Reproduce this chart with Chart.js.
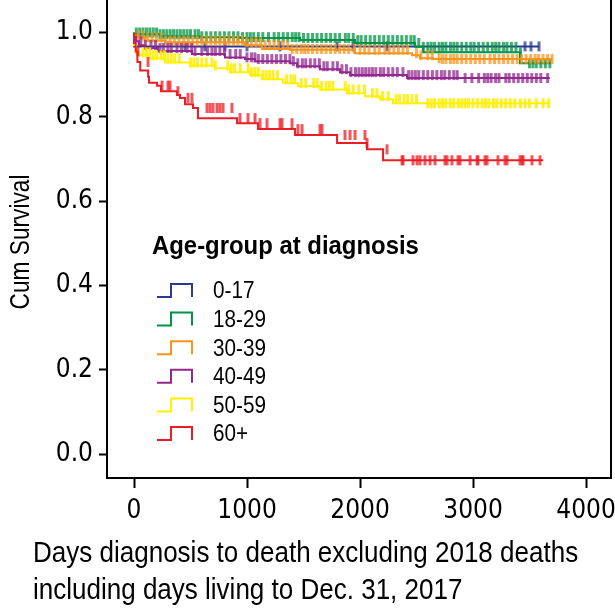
<!DOCTYPE html>
<html>
<head>
<meta charset="utf-8">
<script src="https://cdn.jsdelivr.net/npm/chart.js@4.4.1/dist/chart.umd.min.js"></script>
<style>
    html, body { margin: 0; padding: 0; background: #fff; }
    #wrap { width: 615px; height: 608px; }
</style>
</head>
<body>
<div id="wrap"><canvas id="kmChart"></canvas></div>
<script>
// ─── Data ────────────────────────────────────────────────────────────────────

const groups = ['0-17', '18-29', '30-39', '40-49', '50-59', '60+'];

const xTicks = [0, 1000, 2000, 3000, 4000];
const yTicks = [0, 0.2, 0.4, 0.6, 0.8, 1.0];

// Kaplan-Meier steps: [day, cum survival after the step]
const steps017 = [[0, 1], [30, 0.967], [3584, 0.967]];
const steps1829 = [[0, 1], [230, 0.996], [584, 0.991], [938, 0.989], [1469, 0.987], [1956, 0.982],
    [2487, 0.975], [2558, 0.966], [3416, 0.953], [3487, 0.927], [3690, 0.927]];
const steps3039 = [[0, 1], [35, 0.993], [97, 0.988], [274, 0.981], [982, 0.977], [1133, 0.970],
    [1381, 0.961], [1956, 0.959], [2460, 0.951], [2531, 0.946], [2646, 0.939], [2708, 0.937], [3700, 0.937]];
const steps4049 = [[0, 1], [18, 0.990], [44, 0.979], [97, 0.970], [212, 0.963], [513, 0.956],
    [805, 0.949], [982, 0.941], [1071, 0.937], [1381, 0.932], [1443, 0.927], [1646, 0.920],
    [1823, 0.913], [1912, 0.906], [2416, 0.899], [2885, 0.892], [3680, 0.892]];
const steps5059 = [[0, 1], [18, 0.970], [44, 0.953], [142, 0.946], [274, 0.939], [496, 0.929],
    [717, 0.922], [850, 0.915], [1027, 0.906], [1133, 0.899], [1319, 0.889], [1451, 0.880],
    [1646, 0.873], [1885, 0.865], [2044, 0.856], [2177, 0.849], [2292, 0.842], [2558, 0.832], [3681, 0.832]];
const steps60 = [[0, 1], [15, 0.975], [30, 0.955], [55, 0.930], [125, 0.910], [133, 0.895],
    [204, 0.881], [239, 0.874], [381, 0.861], [407, 0.852], [451, 0.845], [522, 0.830],
    [566, 0.821], [912, 0.797], [1097, 0.785], [1425, 0.771], [1797, 0.757], [2062, 0.738],
    [2204, 0.723], [2248, 0.697], [3620, 0.697]];

// censored cases (days)
const censor017 = [451, 628, 805, 1000, 1292, 1797, 1938, 2239, 3460, 3513, 3584];
const censor1829 = [20, 50, 80, 110, 140, 170, 200, 230, 260, 290, 320, 350, 380, 410, 440, 470, 500,
    540, 570, 600, 640, 680, 720, 760, 800, 840, 880, 920, 960, 1000, 1030, 1060, 1100, 1140, 1190,
    1240, 1280, 1320, 1360, 1400, 1430, 1460, 1500, 1540, 1580, 1620, 1660, 1700, 1740, 1780, 1820,
    1870, 1900, 1940, 1980, 2010, 2050, 2090, 2130, 2170, 2210, 2250, 2290, 2330, 2370, 2410, 2450,
    2480, 2520, 2560, 2600, 2630, 2660, 2700, 2730, 2760, 2800, 2830, 2860, 2900, 2940, 2980, 3010,
    3050, 3090, 3130, 3170, 3200, 3230, 3270, 3300, 3340, 3380, 3420, 3500, 3530, 3560, 3600, 3640, 3680];
const censor3039 = [40, 80, 120, 160, 200, 240, 280, 320, 360, 400, 440, 480, 520, 560, 600, 640, 680,
    720, 760, 800, 840, 880, 920, 960, 1000, 1040, 1080, 1120, 1160, 1200, 1240, 1280, 1320, 1360,
    1400, 1440, 1480, 1510, 1540, 1580, 1620, 1660, 1700, 1740, 1780, 1820, 1860, 1900, 1950, 2000,
    2040, 2080, 2130, 2170, 2220, 2260, 2300, 2340, 2380, 2420, 2500, 2540, 2600, 2640, 2700, 2730,
    2760, 2800, 2830, 2860, 2900, 2940, 2980, 3020, 3060, 3100, 3150, 3190, 3230, 3270, 3310, 3350,
    3390, 3430, 3470, 3510, 3550, 3580, 3620, 3660, 3700];
const censor4049 = [60, 100, 150, 190, 230, 260, 300, 330, 380, 420, 470, 510, 540, 600, 650, 690, 720,
    760, 800, 850, 900, 940, 1000, 1040, 1070, 1100, 1140, 1180, 1220, 1260, 1300, 1340, 1380, 1410,
    1450, 1490, 1520, 1560, 1600, 1640, 1680, 1710, 1760, 1800, 1840, 1880, 1920, 1960, 1990, 2020,
    2050, 2080, 2110, 2140, 2180, 2210, 2250, 2290, 2330, 2380, 2430, 2460, 2490, 2520, 2560, 2600,
    2640, 2680, 2720, 2750, 2790, 2830, 2860, 2930, 2990, 3050, 3100, 3130, 3160, 3200, 3230, 3290,
    3320, 3360, 3400, 3440, 3480, 3520, 3560, 3600, 3660];
const censor5059 = [80, 110, 140, 170, 200, 240, 270, 300, 330, 360, 400, 500, 530, 560, 600, 640, 690,
    720, 830, 860, 890, 940, 1010, 1040, 1070, 1100, 1140, 1170, 1200, 1230, 1270, 1350, 1390, 1420,
    1480, 1520, 1590, 1620, 1660, 1700, 1730, 1760, 1870, 1900, 1940, 1990, 2040, 2110, 2150, 2200,
    2250, 2320, 2350, 2390, 2420, 2460, 2500, 2600, 2630, 2660, 2700, 2730, 2760, 2800, 2830, 2870,
    2900, 2930, 2960, 3000, 3040, 3080, 3110, 3140, 3180, 3210, 3250, 3290, 3330, 3370, 3420, 3460,
    3500, 3560, 3620, 3670];
const censor60 = [35, 124, 248, 301, 319, 389, 478, 513, 646, 673, 699, 735, 761, 788, 867, 938, 1009,
    1071, 1115, 1177, 1292, 1310, 1398, 1451, 1487, 1646, 1664, 1867, 1912, 1956, 2044, 2062, 2239,
    2372, 2381, 2469, 2505, 2531, 2575, 2620, 2664, 2752, 2770, 2814, 2867, 2885, 2974, 3036, 3044,
    3106, 3124, 3221, 3283, 3301, 3416, 3434, 3443, 3522, 3593];

// ─── Styling ─────────────────────────────────────────────────────────────────

const tickFamily = '"DejaVu Sans Condensed", "DejaVu Sans", sans-serif';
const textFamily = '"Liberation Sans", Arial, sans-serif';

const groupColors = ['#2B3990', '#009444', '#F7941D', '#92278F', '#FFF200', '#ED1C24'];
const censorColors = ['rgba(43,57,144,0.75)', 'rgba(0,148,68,0.75)', 'rgba(247,148,29,0.75)',
    'rgba(146,39,143,0.75)', 'rgba(255,236,0,0.85)', 'rgba(237,28,36,0.75)'];

const allSteps = [steps017, steps1829, steps3039, steps4049, steps5059, steps60];
const allCensors = [censor017, censor1829, censor3039, censor4049, censor5059, censor60];

function survivalAt(steps, day) {
    let s = steps[0][1];
    for (const [d, v] of steps) {
        if (d <= day) s = v;
    }
    return s;
}

// ─── Datasets ────────────────────────────────────────────────────────────────

const datasets = [];
groups.forEach((g, i) => {
    datasets.push({
        label: g,
        data: allSteps[i].map(([d, v]) => ({ x: d, y: v })),
        borderColor: groupColors[i],
        borderWidth: 2,
        stepped: 'after',
        pointRadius: 0,
        fill: false,
        order: 10 - i,
    });
    datasets.push({
        label: g + ' censored',
        data: allCensors[i].map(d => ({ x: d, y: survivalAt(allSteps[i], d) })),
        showLine: false,
        pointStyle: 'line',
        rotation: 90,
        pointRadius: 5,
        pointBorderWidth: 3,
        pointBorderColor: censorColors[i],
        borderColor: censorColors[i],
        order: 10 - i,
    });
});

// ─── Plugins ─────────────────────────────────────────────────────────────────

// text squeezed horizontally to mimic the condensed face of the original
function condensedText(ctx, text, x, y, squeeze, align) {
    ctx.save();
    ctx.translate(x, y);
    ctx.scale(squeeze, 1);
    ctx.textAlign = align || 'left';
    ctx.fillText(text, 0, 0);
    ctx.restore();
}

const whiteBg = {
    id: 'whiteBg',
    beforeDraw(chart) {
        const { ctx, width, height } = chart;
        ctx.save();
        ctx.fillStyle = '#fff';
        ctx.fillRect(0, 0, width, height);
        ctx.restore();
    },
};

const frameRight = {
    id: 'frameRight',
    afterDraw(chart) {
        const { ctx, chartArea } = chart;
        ctx.save();
        ctx.strokeStyle = '#000';
        ctx.lineWidth = 2;
        ctx.beginPath();
        ctx.moveTo(chartArea.right, chartArea.top);
        ctx.lineTo(chartArea.right, chartArea.bottom + 1);
        ctx.stroke();
        ctx.restore();
    },
};

// axis titles: two-line x title left aligned as a block, rotated y title
const axisTitles = {
    id: 'axisTitles',
    afterDraw(chart, args, opts) {
        const { ctx, chartArea } = chart;
        ctx.save();
        ctx.fillStyle = '#000';
        ctx.textBaseline = 'middle';

        ctx.font = `${opts.xSize}px ${textFamily}`;
        opts.xLines.forEach((line, i) =>
            condensedText(ctx, line, opts.xLeft, opts.xTop + i * opts.xGap, opts.xSqueeze));

        ctx.font = `${opts.ySize}px ${textFamily}`;
        ctx.translate(opts.yX, (chartArea.top + chartArea.bottom) / 2 + 3);
        ctx.rotate(-Math.PI / 2);
        condensedText(ctx, opts.yText, 0, 0, opts.ySqueeze, 'center');
        ctx.restore();
    },
};

// legend drawn inside the plot, with step icons
const stepLegend = {
    id: 'stepLegend',
    afterDraw(chart, args, opts) {
        const { ctx } = chart;
        ctx.save();
        ctx.fillStyle = '#000';
        ctx.textBaseline = 'middle';
        ctx.font = `bold ${opts.titleSize}px ${textFamily}`;
        condensedText(ctx, opts.title, opts.titleX, opts.titleY, opts.titleSqueeze);

        ctx.font = `${opts.size}px ${textFamily}`;
        groups.forEach((g, i) => {
            const y = opts.y + i * opts.rowGap;
            const x = opts.iconX;
            ctx.strokeStyle = groupColors[i];
            ctx.lineWidth = 2;
            ctx.beginPath();
            ctx.moveTo(x, y + 6);
            ctx.lineTo(x + 14, y + 6);
            ctx.lineTo(x + 14, y - 7);
            ctx.lineTo(x + 35, y - 7);
            ctx.lineTo(x + 35, y + 6);
            ctx.stroke();
            condensedText(ctx, g, opts.textX, y + 1, opts.squeeze);
        });
        ctx.restore();
    },
};

// ─── Chart ───────────────────────────────────────────────────────────────────

const tickFont = { family: tickFamily, size: 26 };

new Chart(document.getElementById('kmChart'), {
    type: 'line',
    data: { datasets },
    options: {
        responsive: true,
        maintainAspectRatio: false,
        animation: false,
        events: [],
        layout: { autoPadding: false, padding: { top: 0, right: 4, left: 0, bottom: 0 } },
        scales: {
            x: {
                type: 'linear',
                min: -239,
                max: 4221,
                afterBuildTicks: s => { s.ticks = xTicks.map(v => ({ value: v })); },
                afterFit: s => { s.height = 130; s.paddingLeft = 0; s.paddingRight = 0; },
                grid: { drawOnChartArea: false, tickLength: 10, tickColor: '#000', tickWidth: 2 },
                border: { color: '#000', width: 2 },
                ticks: { font: tickFont, color: '#000', padding: 8, maxRotation: 0, callback: v => String(v) },
            },
            y: {
                min: -0.056,
                max: 1.077,
                afterBuildTicks: s => { s.ticks = yTicks.map(v => ({ value: v })); },
                afterFit: s => { s.width = 107; s.paddingTop = 0; s.paddingBottom = 0; },
                grid: { drawOnChartArea: false, tickLength: 8, tickColor: '#000', tickWidth: 2 },
                border: { color: '#000', width: 2 },
                ticks: { font: tickFont, color: '#000', padding: 6, callback: v => v.toFixed(1) },
            },
        },
        plugins: {
            legend: { display: false },
            tooltip: { enabled: false },
            axisTitles: {
                xLines: ['Days diagnosis to death excluding 2018 deaths', 'including days living to Dec. 31, 2017'],
                xLeft: 33, xTop: 554, xGap: 37, xSize: 30, xSqueeze: 0.867,
                yText: 'Cum Survival', yX: 22, ySize: 27, ySqueeze: 0.84,
            },
            stepLegend: {
                title: 'Age-group at diagnosis',
                titleX: 152, titleY: 247, titleSize: 25, titleSqueeze: 0.956,
                iconX: 157, textX: 213, y: 291, rowGap: 28.6, size: 23, squeeze: 0.9,
            },
        },
    },
    plugins: [whiteBg, frameRight, axisTitles, stepLegend],
});
</script>
</body>
</html>
